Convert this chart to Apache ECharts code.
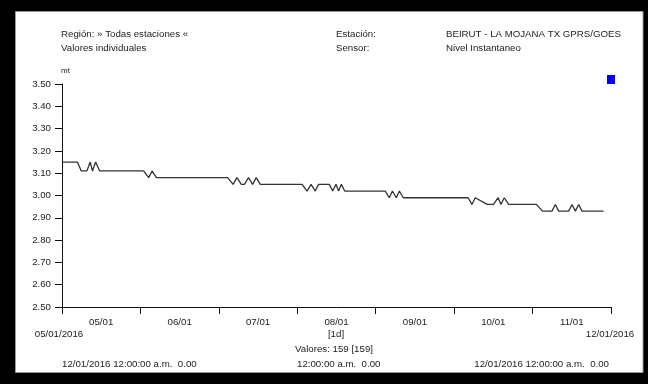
<!DOCTYPE html>
<html>
<head>
<meta charset="utf-8">
<script src="https://cdn.jsdelivr.net/npm/echarts@6/dist/echarts.min.js"></script>
<style>
html,body{margin:0;padding:0;background:#000;}
#c{width:648px;height:384px;}
</style>
</head>
<body>
<div id="c"></div>
<script>
// Month labels on the x axis (intervals between ticks)
const monthLabels = ['05/01','06/01','07/01','08/01','09/01','10/01','11/01'];
// Y ticks
const yMin = 2.5, yMax = 3.5, yStep = 0.1;
// Days since 05/01/2016 (x) and level in mt (y)
const dayOffsets = [0, 6, 7.5, 9.7, 11.0, 11.9, 13.1, 14.7, 31.8, 33.8, 35.1, 36.8,
  64.6, 66.7, 68.2, 69.9, 71.1, 72.7, 74.3, 75.7, 77.3,
  93.6, 95.5, 97.1, 98.7, 100.0, 104.2, 105.5, 106.8, 107.8, 108.9, 110.2,
  126.0, 127.6, 128.8, 130.3, 131.5, 133.0,
  158.3, 159.8, 161.1, 165.7, 168.2, 170.0, 171.1, 172.4, 174.1,
  184.9, 187.3, 191.0, 192.3, 193.6, 197.5, 198.8, 200.1, 201.4, 202.7, 211.1];
const levels = [3.15, 3.15, 3.11, 3.11, 3.15, 3.11, 3.15, 3.11, 3.11, 3.08, 3.11, 3.08,
  3.08, 3.05, 3.08, 3.05, 3.05, 3.08, 3.05, 3.08, 3.05,
  3.05, 3.02, 3.05, 3.02, 3.05, 3.05, 3.02, 3.05, 3.02, 3.05, 3.02,
  3.02, 2.99, 3.02, 2.99, 3.02, 2.99,
  2.99, 2.96, 2.99, 2.96, 2.96, 2.99, 2.96, 2.99, 2.96,
  2.96, 2.93, 2.93, 2.96, 2.93, 2.93, 2.96, 2.93, 2.96, 2.93, 2.93];
const totalDays = 214;

const seriesData = dayOffsets.map((d, i) => [d, levels[i]]);
const FONT = '"Liberation Sans", Arial, sans-serif';
const TXT = '#222';
function txt(x, y, s, align, size) {
  return {type:'text', x:x, y:y, z:10, style:{text:s, fill:TXT, font: (size||9.7) + 'px ' + FONT, textAlign: align||'left', textVerticalAlign:'middle'}};
}

const chart = echarts.init(document.getElementById('c'));
chart.setOption({
  backgroundColor: '#000',
  animation: false,
  grid: {left: 62, right: 37, top: 84, bottom: 77},
  legend: {
    left: 607, top: 75, itemWidth: 8, itemHeight: 9, icon: 'rect',
    formatter: () => '', itemGap: 0, padding: 0,
    data: [{name: 'Nivel', itemStyle: {color: '#0000ff'}}]
  },
  xAxis: [{
    type: 'category', data: monthLabels, boundaryGap: true,
    axisLine: {lineStyle: {color: '#111', width: 1}},
    axisTick: {show: true, interval: 0, length: 7, lineStyle: {color: '#111'}},
    axisLabel: {interval: 0, color: TXT, fontFamily: FONT, fontSize: 9.7, margin: 10},
    splitLine: {show: false}
  }, {
    type: 'value', min: 0, max: totalDays, show: false
  }],
  yAxis: {
    type: 'value', min: yMin, max: yMax, interval: yStep,
    axisLine: {show: true, lineStyle: {color: '#111', width: 1}},
    axisTick: {show: true, length: 7, lineStyle: {color: '#111'}},
    axisLabel: {color: TXT, fontFamily: FONT, fontSize: 9.7, margin: 11, formatter: v => v.toFixed(2)},
    splitLine: {show: false}
  },
  series: [{
    name: 'Nivel', type: 'line', xAxisIndex: 1, data: seriesData,
    showSymbol: false, symbol: 'none',
    lineStyle: {color: '#333', width: 1.3},
    itemStyle: {color: '#0000ff'}
  }],
  graphic: [
    {type:'rect', z:-10, shape:{x:15.5, y:11.5, width:627.5, height:361}, style:{fill:'#fff', stroke:'#999', lineWidth:1}},
    txt(61, 34, 'Región: » Todas estaciones «'),
    txt(61, 48, 'Valores individuales'),
    txt(336, 34, 'Estación:'),
    txt(336, 48, 'Sensor:'),
    txt(446, 34, 'BEIRUT - LA MOJANA TX GPRS/GOES'),
    txt(446, 48, 'Nivel Instantaneo'),
    txt(61, 71, 'mt', 'left', 8),
    txt(59, 334, '05/01/2016', 'center'),
    txt(610, 334, '12/01/2016', 'center'),
    txt(336, 334, '[1d]', 'center'),
    txt(334, 349, 'Valores: 159 [159]', 'center'),
    txt(62, 364, '12/01/2016 12:00:00 a.m.  0.00'),
    txt(297, 364, '12:00:00 a.m.  0.00'),
    txt(609, 364, '12/01/2016 12:00:00 a.m.  0.00', 'right')
  ]
});
</script>
</body>
</html>
